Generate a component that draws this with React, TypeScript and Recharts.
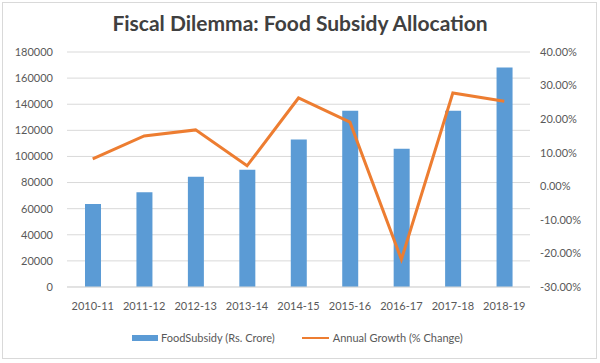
import { ComposedChart, Bar, Line, XAxis, YAxis, CartesianGrid, Legend } from 'recharts';

const years = ['2010-11', '2011-12', '2012-13', '2013-14', '2014-15', '2015-16', '2016-17', '2017-18', '2018-19'];
const subsidy = [63500, 72500, 84500, 89900, 112900, 135000, 105800, 135000, 168200];
const growth = [8.15, 15.0, 16.8, 6.1, 26.3, 19.1, -21.8, 27.8, 25.3];
const leftTicks = [0, 20000, 40000, 60000, 80000, 100000, 120000, 140000, 160000, 180000];
const rightTicks = [-30, -20, -10, 0, 10, 20, 30, 40];

const data = years.map((year, i) => ({
  year,
  subsidy: subsidy[i],
  growth: growth[i],
}));

const FONT = 'Lato, "Liberation Sans", sans-serif';
const tickStyle = { fill: '#595959', fontSize: 11, fontFamily: FONT };

// legend drawn as plain html so it sits where the Excel one does
function LegendBox() {
  return (
    <div style={{ display: 'flex', alignItems: 'center', fontFamily: FONT, fontSize: 11, color: '#595959' }}>
      <span style={{ display: 'inline-block', width: 26, height: 6, background: '#5B9BD5', marginRight: 3 }} />
      <span style={{ marginRight: 27 }}>FoodSubsidy (Rs. Crore)</span>
      <span style={{ display: 'inline-block', width: 27, height: 2, background: '#ED7D31', marginRight: 4 }} />
      <span>Annual Growth (% Change)</span>
    </div>
  );
}

export default function App() {
  return (
    <div style={{ position: 'absolute', left: 0, top: 0, width: 600, height: 363, background: '#fff' }}>
      <div
        style={{
          position: 'absolute',
          left: 2,
          top: 2,
          width: 595,
          height: 357,
          border: '1px solid #d9d9d9',
          boxSizing: 'border-box',
        }}
      />
      <div
        style={{
          position: 'absolute',
          top: 10,
          left: 0,
          width: 600,
          textAlign: 'center',
          fontFamily: FONT,
          fontWeight: 700,
          fontSize: 21,
          color: '#404040',
        }}
      >
        Fiscal Dilemma: Food Subsidy Allocation
      </div>
      <ComposedChart width={600} height={363} data={data} margin={{ top: 52, right: 0, bottom: 46, left: 0 }}>
        <CartesianGrid yAxisId="left" vertical={false} stroke="#d9d9d9" />
        <XAxis
          dataKey="year"
          tick={tickStyle}
          tickLine={false}
          axisLine={{ stroke: '#d9d9d9' }}
          tickSize={0}
          tickMargin={15}
          height={30}
          interval={0}
        />
        <YAxis
          yAxisId="left"
          width={67}
          domain={[0, 180000]}
          ticks={leftTicks}
          tick={tickStyle}
          tickLine={false}
          axisLine={false}
          tickSize={0}
          tickMargin={14}
        />
        <YAxis
          yAxisId="right"
          orientation="right"
          width={70}
          domain={[-30, 40]}
          ticks={rightTicks}
          tickFormatter={(v: number) => `${v.toFixed(2)}%`}
          tick={tickStyle}
          tickLine={false}
          axisLine={false}
          tickSize={0}
          tickMargin={10}
        />
        <Legend
          layout="horizontal"
          verticalAlign="middle"
          content={() => <LegendBox />}
          wrapperStyle={{ position: 'absolute', top: 331, left: 132, width: 'auto' }}
        />
        <Bar yAxisId="left" dataKey="subsidy" fill="#5B9BD5" barSize={16} isAnimationActive={false} />
        <Line
          yAxisId="right"
          dataKey="growth"
          stroke="#ED7D31"
          strokeWidth={3}
          dot={false}
          type="linear"
          isAnimationActive={false}
        />
      </ComposedChart>
    </div>
  );
}
